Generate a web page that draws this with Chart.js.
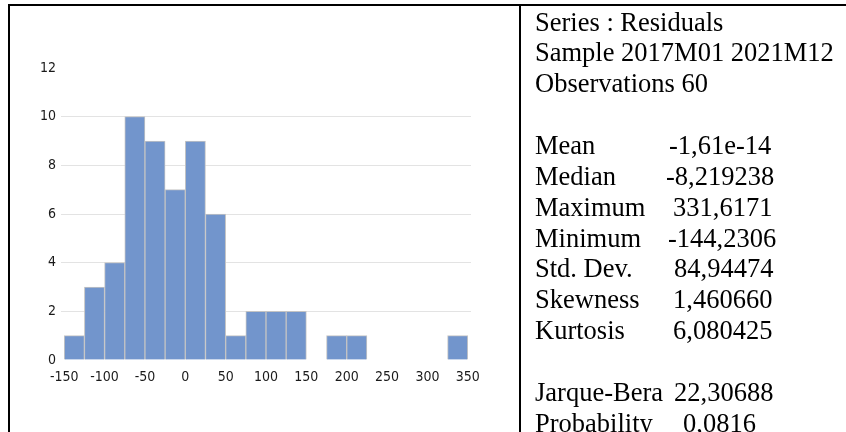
<!DOCTYPE html>
<html>
<head>
<meta charset="utf-8">
<script src="https://cdn.jsdelivr.net/npm/chart.js@4/dist/chart.umd.min.js"></script>
<style>
  html, body { margin: 0; padding: 0; background: #fff; }
  body { width: 846px; height: 432px; position: relative; overflow: hidden; }
  #c { position: absolute; left: 0; top: 0; }
  .bline { position: absolute; background: #000; }
  .txt { position: absolute; font-family: "Liberation Serif", "Times New Roman", serif; font-size: 26.5px; line-height: 30.85px; color: #000; white-space: pre; }
</style>
</head>
<body>
<canvas id="c" width="846" height="432"></canvas>
<div class="bline" style="left:8px;top:4px;width:838px;height:2px;"></div>
<div class="bline" style="left:8px;top:4px;width:2px;height:428px;"></div>
<div class="bline" style="left:519px;top:4px;width:2px;height:428px;"></div>
<div id="stats"></div>
<script>
// ---- data ----
const binCenters = [-137.5, -112.5, -87.5, -62.5, -37.5, -12.5, 12.5, 37.5, 62.5, 87.5, 112.5, 137.5, 162.5, 187.5, 212.5, 237.5, 262.5, 287.5, 312.5, 337.5];
const binCounts  = [1, 3, 4, 10, 9, 7, 9, 6, 1, 2, 2, 2, 0, 1, 1, 0, 0, 0, 0, 1];
const xTickValues = [-150, -100, -50, 0, 50, 100, 150, 200, 250, 300, 350];
const yTickValues = [0, 2, 4, 6, 8, 10, 12];

const headerLines = ["Series : Residuals", "Sample 2017M01 2021M12", "Observations 60"];
const statLabels = ["Mean", "Median", "Maximum", "Minimum", "Std. Dev.", "Skewness", "Kurtosis"];
const statValues = ["-1,61e-14", "-8,219238", "331,6171", "-144,2306", "84,94474", "1,460660", "6,080425"];
const testLabels = ["Jarque-Bera", "Probability"];
const testValues = ["22,30688", "0,0816"];

// ---- stats panel ----
const statX = [669, 666, 673, 668, 674, 673, 673];
const testX = [674, 683];
const lineH = 30.85, top0 = 6.6, labelX = 535;
const panel = document.getElementById('stats');
function addText(str, x, row) {
  const d = document.createElement('div');
  d.className = 'txt';
  d.style.left = x + 'px';
  d.style.top = (top0 + row * lineH) + 'px';
  d.textContent = str;
  panel.appendChild(d);
}
headerLines.forEach((s, i) => addText(s, labelX, i));
statLabels.forEach((s, i) => { addText(s, labelX, 4 + i); addText(statValues[i], statX[i], 4 + i); });
testLabels.forEach((s, i) => { addText(s, labelX, 12 + i); addText(testValues[i], testX[i], 12 + i); });

// ---- chart ----
const tickFont = { family: "'DejaVu Sans Condensed', 'Liberation Sans Narrow', sans-serif", size: 14 };
const points = binCenters.map((x, i) => ({ x: x, y: binCounts[i] === 0 ? null : binCounts[i] }));

new Chart(document.getElementById('c'), {
  type: 'bar',
  data: {
    datasets: [{
      data: points,
      backgroundColor: '#7295cc',
      borderColor: '#c4c4c4',
      borderWidth: 1,
      borderSkipped: 'start',
      barPercentage: 1,
      categoryPercentage: 1
    }]
  },
  options: {
    responsive: false,
    animation: false,
    devicePixelRatio: 1,
    layout: { padding: { left: 0, top: 68, right: 375, bottom: 42 } },
    plugins: { legend: { display: false }, tooltip: { enabled: false }, title: { display: false } },
    scales: {
      x: {
        type: 'linear',
        offset: false,
        min: -154,
        max: 354,
        afterBuildTicks: (s) => { s.ticks = xTickValues.map(v => ({ value: v })); },
        afterFit: (s) => { s.height = 30; },
        grid: { display: false, drawTicks: false },
        border: { display: false },
        ticks: { font: tickFont, color: '#1a1a1a', padding: 9, maxRotation: 0, autoSkip: false }
      },
      y: {
        min: 0,
        max: 12,
        afterBuildTicks: (s) => { s.ticks = yTickValues.map(v => ({ value: v })); },
        afterFit: (s) => { s.width = 61; },
        grid: {
          drawTicks: false,
          lineWidth: 1,
          color: (ctx) => (ctx.tick && (ctx.tick.value === 0 || ctx.tick.value === 12)) ? 'rgba(0,0,0,0)' : '#e3e3e3'
        },
        border: { display: false },
        ticks: { font: tickFont, color: '#1a1a1a', padding: 5 }
      }
    }
  }
});
</script>
</body>
</html>
